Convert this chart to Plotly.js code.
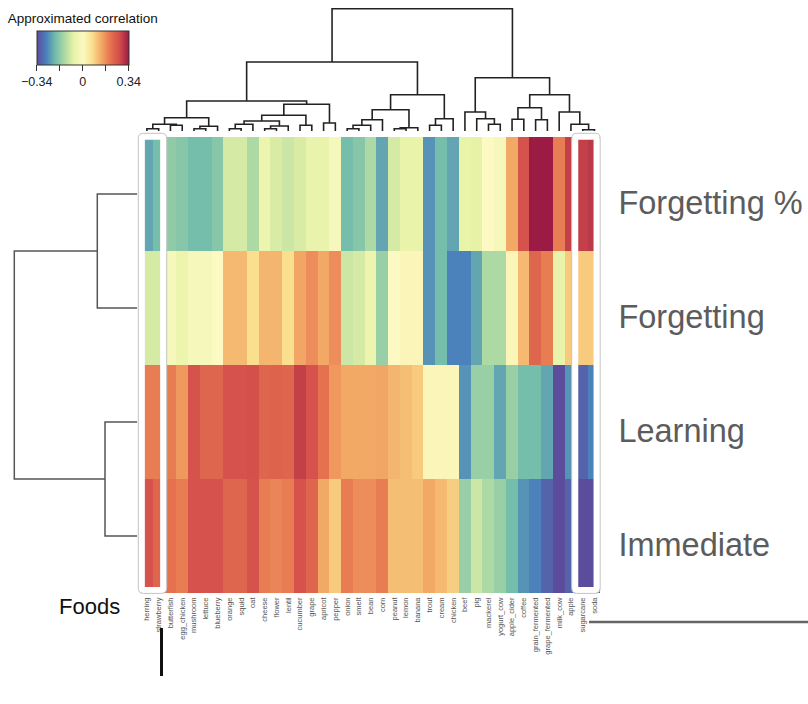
<!DOCTYPE html>
<html>
<head>
<meta charset="utf-8">
<script src="https://cdn.plot.ly/plotly-3.0.1.min.js"></script>
<style>html,body{margin:0;padding:0;background:#fff;}#chart{width:808px;height:704px;}</style>
</head>
<body>
<div id="chart"></div>
<script>
// ---------- data ----------
const foods = ['herring','strawberry','butterfish','egg_chicken','mushroom','lettuce','blueberry','orange','squid','oat',
  'cheese','flower','lentil','cucumber','grape','apricot','pepper','onion','smelt','bean','corn','peanut','lemon','banana',
  'trout','cream','chicken','beef','pig','mackerel','yogurt_cow','apple_cider','coffee','grain_fermented','grape_fermented',
  'milk_cow','apple','sugarcane','soda'];
const measures = ['Forgetting %','Forgetting','Learning','Immediate'];

const forgettingPct = [-0.23,-0.20,-0.17,-0.18,-0.20,-0.20,-0.18,-0.09,-0.09,-0.136,
  -0.05,-0.085,-0.10,-0.085,-0.055,-0.055,-0.02,-0.20,-0.18,-0.136,-0.23,-0.09,-0.06,-0.06,
  -0.25,-0.20,-0.23,-0.06,-0.065,0.0,-0.02,0.136,0.26,0.34,0.34,0.19,0.29,0.29,0.30];
const forgetting = [-0.09,-0.09,-0.02,-0.05,-0.02,-0.02,0.0,0.116,0.116,0.068,
  0.12,0.12,0.068,0.14,0.17,0.136,0.17,-0.10,-0.09,-0.05,-0.16,0.0,0.01,0.01,
  -0.25,-0.20,-0.27,-0.27,-0.23,-0.136,-0.136,0.01,0.116,0.225,0.19,-0.06,0.095,0.095,0.095];
const learning = [0.19,0.19,0.19,0.156,0.26,0.225,0.225,0.26,0.26,0.265,
  0.225,0.23,0.225,0.29,0.26,0.204,0.156,0.136,0.136,0.136,0.14,0.12,0.11,0.095,
  0.01,0.01,0.01,-0.25,-0.16,-0.16,-0.23,-0.16,-0.20,-0.20,-0.23,-0.34,-0.25,-0.31,-0.27];
const immediate = [0.26,0.225,0.204,0.19,0.26,0.26,0.26,0.225,0.225,0.26,
  0.19,0.18,0.19,0.26,0.225,0.136,0.095,0.19,0.17,0.17,0.19,0.11,0.11,0.11,
  0.136,0.116,0.09,-0.16,-0.10,-0.136,-0.16,-0.20,-0.25,-0.27,-0.31,-0.34,-0.31,-0.34,-0.34];

// column dendrogram merges: [childA, childB, height]; ids >= 39 are earlier merges
const colLinkage = [
  [0,1,2.3],[2,3,5.7],[39,40,6.7],[4,5,2.3],[42,6,4.7],[41,43,13.3],
  [7,8,2.3],[45,9,6.7],[10,11,2.3],[47,12,5],[46,48,10],[13,14,5.7],[49,50,15.7],
  [15,16,8],[51,52,26.7],[44,53,30],
  [17,18,2.3],[55,19,5.7],[56,20,11.3],[21,22,2.3],[58,23,3.3],[57,59,21.3],
  [24,25,5.7],[61,26,12.3],[60,62,36.3],[54,63,69],
  [29,30,6.7],[28,65,12.3],[27,66,19],[31,32,11.7],[33,34,11.3],[68,69,23.3],
  [37,38,1.3],[36,71,6.7],[35,72,19],[70,73,36.3],[67,74,53.3],[64,75,122.3]
];
// row dendrogram merges
const rowLinkage = [[0,1,40],[2,3,32.3],[4,5,123]];

// ---------- helpers ----------
const W = 808, H = 704;
const PX = p => p / W;
const PY = p => 1 - p / H;

function dendro(linkage, n) {
  const pos = [], ht = [];
  for (let i = 0; i < n; i++) { pos.push(i); ht.push(0); }
  const a = [], b = [];
  linkage.forEach(([l, r, h]) => {
    a.push(pos[l], pos[l], pos[r], pos[r], null);
    b.push(ht[l], h, h, ht[r], null);
    pos.push((pos[l] + pos[r]) / 2); ht.push(h);
  });
  return {pos: a, ht: b};
}

const z = [forgettingPct, forgetting, learning, immediate];
const colIdx = foods.map((_, i) => i);
const rowIdx = measures.map((_, i) => i);

const cscale = [[0,'#5b4c9c'],[0.1,'#4a80bb'],[0.2,'#72bcab'],[0.3,'#add9a4'],[0.4,'#e6f2a6'],
  [0.5,'#fcf9c2'],[0.6,'#f9df8e'],[0.7,'#f3a966'],[0.8,'#e5714f'],[0.9,'#d14d4b'],[1,'#9b1b45']];

const font = '"Liberation Sans", Arial, Helvetica, sans-serif';

const heat = {
  type: 'heatmap', x: colIdx, y: rowIdx, z: z, xaxis: 'x', yaxis: 'y',
  colorscale: cscale, zmin: -0.34, zmax: 0.34, zsmooth: false, hoverinfo: 'skip',
  colorbar: {
    orientation: 'h', x: PX(36.7), xanchor: 'left', xref: 'paper',
    y: PY(16), yanchor: 'top', yref: 'paper',
    len: 91.6, lenmode: 'pixels', thickness: 34, thicknessmode: 'pixels',
    outlinewidth: 1, outlinecolor: '#333', xpad: 0, ypad: 0,
    tickvals: [-0.34,-0.17,0,0.17,0.34], ticktext: ['\u22120.34','','0','','0.34'],
    ticks: 'outside', ticklen: 6, tickcolor: '#333', tickwidth: 1,
    tickfont: {size: 12.5, color: '#222', family: font},
    title: {text: 'Approximated correlation', side: 'top', font: {size: 13.5, color: '#111', family: font}}
  }
};

const cd = dendro(colLinkage, foods.length);
const colTree = {type: 'scatter', mode: 'lines', x: cd.pos, y: cd.ht, xaxis: 'x2', yaxis: 'y2',
  line: {color: '#222', width: 1.6}, hoverinfo: 'skip', showlegend: false};
const rd = dendro(rowLinkage, measures.length);
const rowTree = {type: 'scatter', mode: 'lines', x: rd.ht, y: rd.pos, xaxis: 'x3', yaxis: 'y',
  line: {color: '#555', width: 1.5}, hoverinfo: 'skip', showlegend: false};

function roundRect(x0, y0, x1, y1, r) {
  const rx = r / W, ry = r / H;
  const X0 = PX(x0), X1 = PX(x1), Y0 = PY(y0), Y1 = PY(y1);
  return `M${X0+rx},${Y0} L${X1-rx},${Y0} Q${X1},${Y0} ${X1},${Y0-ry} L${X1},${Y1+ry} Q${X1},${Y1} ${X1-rx},${Y1} ` +
         `L${X0+rx},${Y1} Q${X0},${Y1} ${X0},${Y1+ry} L${X0},${Y0-ry} Q${X0},${Y0} ${X0+rx},${Y0} Z`;
}

const shapes = [
  {type:'path', xref:'paper', yref:'paper', path: roundRect(141.6,136.6,163.4,590.2,3), line:{color:'#fff', width:6.5}},
  {type:'path', xref:'paper', yref:'paper', path: roundRect(138.3,133.3,166.7,593.4,5), line:{color:'#c4c4c4', width:1}},
  {type:'path', xref:'paper', yref:'paper', path: roundRect(575.0,136.6,596.8,590.2,3), line:{color:'#fff', width:6.5}},
  {type:'path', xref:'paper', yref:'paper', path: roundRect(571.7,133.3,600.2,593.4,5), line:{color:'#c4c4c4', width:1}},
  {type:'line', xref:'paper', yref:'paper', x0: PX(161.5), x1: PX(161.5), y0: PY(628), y1: PY(676), line:{color:'#111', width:3}},
  {type:'line', xref:'paper', yref:'paper', x0: PX(589), x1: PX(808), y0: PY(622), y1: PY(622), line:{color:'#666', width:2.5}}
];

const layout = {
  width: W, height: H, margin: {l:0, r:0, t:0, b:0}, paper_bgcolor: '#fff', plot_bgcolor: 'rgba(0,0,0,0)',
  showlegend: false, font: {family: font},
  xaxis: {domain: [PX(141), PX(600.4)], range: [-0.5, 38.5], anchor: 'y', tickvals: colIdx, ticktext: foods,
    tickangle: -90, ticks: '', showgrid: false, zeroline: false, showline: false,
    tickfont: {size: 7.5, color: '#555', family: font}, ticklabelstandoff: 2, fixedrange: true},
  yaxis: {domain: [PY(593), PY(137)], range: [3.5, -0.5], anchor: 'x', side: 'right', tickvals: rowIdx, ticktext: measures,
    ticks: '', showgrid: false, zeroline: false, showline: false,
    tickfont: {size: 32.5, color: '#5c5c5c', family: font}, ticklabelstandoff: 17, ticklabelshift: -9, fixedrange: true},
  xaxis2: {domain: [PX(141), PX(600.4)], range: [-0.5, 38.5], anchor: 'y2', visible: false, fixedrange: true},
  yaxis2: {domain: [PY(131), PY(7)], range: [0, 124], anchor: 'x2', visible: false, fixedrange: true},
  xaxis3: {domain: [PX(12), PX(137.3)], range: [125.3, 0], anchor: 'y', visible: false, fixedrange: true},
  shapes: shapes,
  annotations: [
    {text: 'Foods', xref: 'paper', yref: 'paper', x: PX(89.5), y: PY(606), xanchor: 'center', yanchor: 'middle',
     showarrow: false, font: {size: 22, color: '#111', family: font}}
  ]
};

Plotly.newPlot('chart', [heat, colTree, rowTree], layout, {displayModeBar: false, staticPlot: true});
</script>
</body>
</html>
